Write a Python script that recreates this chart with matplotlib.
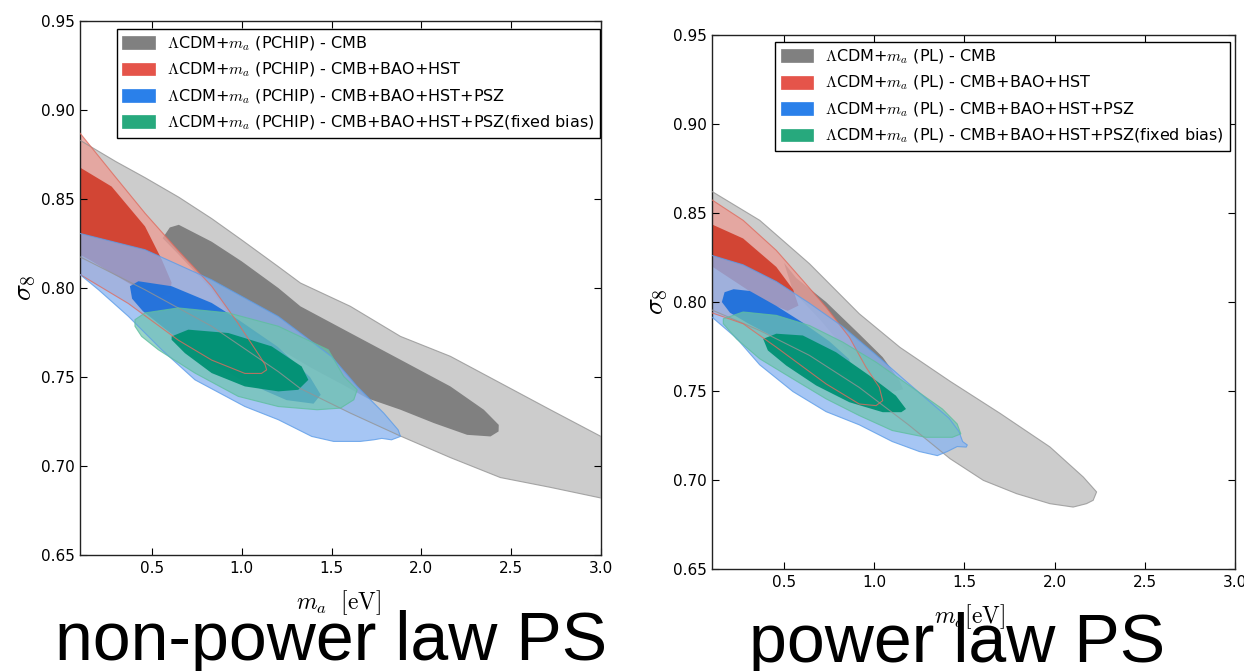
import matplotlib
matplotlib.use('Agg')
import matplotlib.pyplot as plt
from matplotlib.patches import Polygon, Patch
from matplotlib.ticker import FormatStrFormatter

plt.rcParams['mathtext.fontset'] = 'cm'
plt.rcParams['font.family'] = ['DejaVu Sans']

# ---- contour outlines: (m_a [eV], sigma_8) ----
# non-power law PS (PCHIP)
npl_cmb_95 = [(0.0, 0.889), (0.15, 0.880), (0.3, 0.871), (0.462, 0.862), (0.65, 0.851), (0.833, 0.839),
              (1.0, 0.827), (1.204, 0.812), (1.327, 0.8028), (1.605, 0.7897), (1.884, 0.7728),
              (2.162, 0.7616), (2.44, 0.7466), (2.718, 0.7316), (3.0, 0.7166), (3.1, 0.711),
              (3.1, 0.678), (3.0, 0.682), (2.718, 0.688), (2.44, 0.6935), (2.162, 0.7047), (1.884, 0.7168),
              (1.605, 0.7297), (1.327, 0.7435), (1.204, 0.753), (0.833, 0.7785), (0.462, 0.799),
              (0.09, 0.818), (0.0, 0.823)]
npl_cmb_68 = [(0.56, 0.828), (0.6, 0.834), (0.65, 0.8355), (0.833, 0.826), (1.0, 0.815), (1.204, 0.800),
              (1.327, 0.7897), (1.605, 0.7747), (1.884, 0.7597), (2.162, 0.7447), (2.348, 0.7316),
              (2.431, 0.7231), (2.43, 0.7194), (2.385, 0.7166), (2.255, 0.7175), (2.07, 0.7241),
              (1.884, 0.7316), (1.698, 0.7381), (1.575, 0.745), (1.39, 0.755), (1.204, 0.766),
              (1.05, 0.776), (0.95, 0.782), (0.833, 0.799), (0.647, 0.819)]
npl_bao_95 = [(0.0, 0.894), (0.1, 0.887), (0.276, 0.865), (0.462, 0.842), (0.647, 0.821), (0.833, 0.801),
              (0.981, 0.780), (1.092, 0.763), (1.13, 0.757), (1.139, 0.754), (1.11, 0.752), (1.018, 0.752),
              (0.833, 0.7595), (0.647, 0.7707), (0.369, 0.7913), (0.09, 0.8082), (0.0, 0.814)]
npl_bao_68 = [(0.0, 0.873), (0.09, 0.8683), (0.276, 0.857), (0.462, 0.8346), (0.555, 0.816), (0.61, 0.803),
              (0.6, 0.797), (0.55, 0.795), (0.45, 0.798), (0.3, 0.807), (0.15, 0.816), (0.0, 0.824)]
npl_psz_95 = [(0.0, 0.833), (0.09, 0.8309), (0.462, 0.8215), (0.833, 0.8046), (1.204, 0.784), (1.5, 0.7615),
              (1.643, 0.7447), (1.791, 0.7297), (1.871, 0.7203), (1.884, 0.7166), (1.834, 0.7147),
              (1.78, 0.7155), (1.735, 0.7147), (1.66, 0.7138), (1.512, 0.7138), (1.39, 0.7166),
              (1.204, 0.726), (1.018, 0.7334), (0.74, 0.7484), (0.555, 0.7653), (0.369, 0.7841),
              (0.202, 0.7991), (0.09, 0.8084), (0.0, 0.814)]
npl_psz_68 = [(0.378, 0.801), (0.425, 0.8038), (0.61, 0.801), (0.833, 0.7916), (0.981, 0.7822), (1.2, 0.767),
              (1.38, 0.750), (1.44, 0.740), (1.40, 0.735), (1.25, 0.737), (1.0, 0.748), (0.8, 0.760),
              (0.6, 0.775), (0.45, 0.787), (0.39, 0.794)]
npl_fix_95 = [(0.406, 0.7822), (0.462, 0.786), (0.647, 0.7888), (0.926, 0.786), (1.204, 0.7785),
              (1.482, 0.7653), (1.568, 0.7503), (1.643, 0.7428), (1.624, 0.7372), (1.55, 0.7325),
              (1.42, 0.7316), (1.204, 0.7334), (0.981, 0.7391), (0.74, 0.7522), (0.536, 0.7653),
              (0.443, 0.7728), (0.406, 0.7785)]
npl_fix_68 = [(0.61, 0.7728), (0.703, 0.7766), (0.926, 0.7747), (1.167, 0.7672), (1.334, 0.7559),
              (1.371, 0.7484), (1.315, 0.7428), (1.204, 0.7419), (1.018, 0.7447), (0.833, 0.7522),
              (0.684, 0.7634), (0.61, 0.7709)]

# power law PS (PL)
pl_cmb_95 = [(0.0, 0.868), (0.089, 0.8628), (0.365, 0.8459), (0.641, 0.8215), (0.917, 0.7934),
             (1.143, 0.7745), (1.42, 0.7555), (1.697, 0.7375), (1.974, 0.7186), (2.159, 0.7017),
             (2.233, 0.6933), (2.214, 0.6886), (2.177, 0.6867), (2.103, 0.6848), (1.974, 0.6867),
             (1.79, 0.6923), (1.605, 0.6998), (1.42, 0.712), (1.19, 0.731), (0.917, 0.752), (0.641, 0.770),
             (0.365, 0.784), (0.089, 0.796), (0.0, 0.800)]
pl_cmb_68 = [(0.5, 0.822), (0.567, 0.8135), (0.733, 0.800), (0.917, 0.782), (1.047, 0.769), (1.139, 0.756),
             (1.16, 0.751), (1.12, 0.750), (1.03, 0.748), (0.95, 0.757), (0.85, 0.772), (0.7, 0.790),
             (0.55, 0.806)]
pl_bao_95 = [(0.0, 0.864), (0.089, 0.8581), (0.273, 0.8459), (0.457, 0.829), (0.604, 0.8121), (0.733, 0.7971),
             (0.862, 0.7802), (0.954, 0.7634), (1.028, 0.7521), (1.047, 0.7446), (1.01, 0.7418),
             (0.917, 0.7427), (0.733, 0.754), (0.457, 0.7746), (0.273, 0.7878), (0.089, 0.7943), (0.0, 0.798)]
pl_bao_68 = [(0.0, 0.848), (0.089, 0.8441), (0.273, 0.8357), (0.457, 0.8197), (0.55, 0.807), (0.58, 0.798),
             (0.52, 0.795), (0.4, 0.800), (0.25, 0.810), (0.1, 0.820), (0.0, 0.826)]
pl_psz_95 = [(0.0, 0.829), (0.089, 0.8265), (0.273, 0.8209), (0.457, 0.8115), (0.641, 0.7993), (0.825, 0.7862),
             (1.01, 0.7703), (1.157, 0.7572), (1.286, 0.7459), (1.415, 0.7347), (1.47, 0.7272), (1.49, 0.7216),
             (1.516, 0.7197), (1.51, 0.7185), (1.46, 0.7188), (1.405, 0.716), (1.35, 0.7137), (1.25, 0.716),
             (1.1, 0.7216), (0.917, 0.731), (0.733, 0.7384), (0.549, 0.7497), (0.365, 0.7647),
             (0.236, 0.7797), (0.089, 0.7925), (0.0, 0.797)]
pl_psz_68 = [(0.155, 0.800), (0.17, 0.8055), (0.22, 0.8072), (0.31, 0.8062), (0.457, 0.7978), (0.604, 0.7884),
             (0.75, 0.778), (0.86, 0.768), (0.88, 0.762), (0.8, 0.760), (0.65, 0.768), (0.45, 0.780),
             (0.3, 0.788), (0.2, 0.794)]
pl_fix_95 = [(0.163, 0.7906), (0.273, 0.7944), (0.457, 0.7925), (0.641, 0.7868), (0.825, 0.7775),
             (1.01, 0.7662), (1.194, 0.7531), (1.378, 0.7399), (1.46, 0.7315), (1.48, 0.7259), (1.433, 0.724),
             (1.286, 0.724), (1.1, 0.7278), (0.917, 0.7362), (0.733, 0.7456), (0.549, 0.7568),
             (0.365, 0.7681), (0.236, 0.7793), (0.163, 0.7878)]
pl_fix_68 = [(0.384, 0.7793), (0.457, 0.7822), (0.604, 0.7812), (0.788, 0.7718), (0.973, 0.7587),
             (1.12, 0.7474), (1.176, 0.7399), (1.15, 0.7381), (1.047, 0.7381), (0.862, 0.7437),
             (0.678, 0.7531), (0.512, 0.7643), (0.41, 0.7728)]

datasets = ['CMB', 'CMB+BAO+HST', 'CMB+BAO+HST+PSZ', 'CMB+BAO+HST+PSZ(fixed bias)']
x_ticks = [0.5, 1.0, 1.5, 2.0, 2.5, 3.0]
y_ticks = [0.65, 0.70, 0.75, 0.80, 0.85, 0.90, 0.95]

# (light fill, dark fill, outline, legend colour) per dataset
styles = [
    ((0.80, 0.80, 0.80, 1.0), (0.50, 0.50, 0.50, 1.0), (0.58, 0.58, 0.58), '#808080'),
    ((0.923, 0.615, 0.59, 0.78), (0.82, 0.25, 0.18, 0.95), (0.88, 0.42, 0.37), '#e5544a'),
    ((0.533, 0.707, 0.947, 0.75), (0.12, 0.44, 0.86, 0.95), (0.36, 0.61, 0.91), '#2a80ea'),
    ((0.43, 0.77, 0.686, 0.70), (0.0, 0.57, 0.45, 0.95), (0.37, 0.75, 0.62), '#27a97d'),
]


def draw_panel(ax, contours, tag, legend_anchor):
    for (c95, c68), st in zip(contours, styles):
        ax.add_patch(Polygon(c95, closed=True, facecolor=st[0], edgecolor='none', zorder=1))
        ax.add_patch(Polygon(c68, closed=True, facecolor=st[1], edgecolor='none', zorder=1))
    # 95% outlines show through the other fills
    for (c95, c68), st in zip(contours, styles):
        ax.add_patch(Polygon(c95, closed=True, fill=False, edgecolor=st[2], lw=0.8, alpha=0.8, zorder=3))

    ax.set_xlim(0.1, 3.0)
    ax.set_ylim(0.65, 0.95)
    ax.set_xticks(x_ticks)
    ax.set_yticks(y_ticks)
    ax.xaxis.set_major_formatter(FormatStrFormatter('%.1f'))
    ax.yaxis.set_major_formatter(FormatStrFormatter('%.2f'))
    ax.tick_params(direction='in', length=5, width=0.8, top=True, right=True, labelsize=11, pad=4)
    for sp in ax.spines.values():
        sp.set_linewidth(1.0)
        sp.set_color('#222222')

    handles = [Patch(facecolor=st[3], edgecolor=st[3], lw=0.5) for st in styles]
    labels = [r'$\Lambda$CDM+$m_a$ (%s) - %s' % (tag, d) for d in datasets]
    leg = ax.legend(handles, labels, loc='upper right', bbox_to_anchor=legend_anchor,
                    borderaxespad=0, fontsize=11.5, fancybox=False, framealpha=1,
                    edgecolor='black', handlelength=2.05, handleheight=0.85,
                    labelspacing=0.5, handletextpad=0.75, borderpad=0.35)
    leg.get_frame().set_linewidth(1.0)
    ax.set_ylabel(r'$\sigma_8$', fontsize=20, labelpad=2)


fig = plt.figure(figsize=(12.44, 6.71), dpi=100)
ax1 = fig.add_axes([0.0643, 0.1729, 0.4188, 0.7958])
ax2 = fig.add_axes([0.5723, 0.1520, 0.4204, 0.7958])

draw_panel(ax1, [(npl_cmb_95, npl_cmb_68), (npl_bao_95, npl_bao_68),
                 (npl_psz_95, npl_psz_68), (npl_fix_95, npl_fix_68)], 'PCHIP', (0.998, 0.9856))
draw_panel(ax2, [(pl_cmb_95, pl_cmb_68), (pl_bao_95, pl_bao_68),
                 (pl_psz_95, pl_psz_68), (pl_fix_95, pl_fix_68)], 'PL', (0.990, 0.987))

ax1.set_xlabel(r'$m_a\ \ [\mathrm{eV}]$', fontsize=17)
ax1.xaxis.set_label_coords(0.497, -0.062)
ax2.set_xlabel(r'$m_a[\mathrm{eV}]$', fontsize=17)
ax2.xaxis.set_label_coords(0.493, -0.062)

fig.text(0.266, 1 - 660 / 671, 'non-power law PS', fontsize=49, family='Liberation Sans',
         ha='center', va='baseline')
fig.text(0.7697, 1 - 662 / 671, 'power law PS', fontsize=49, family='Liberation Sans',
         ha='center', va='baseline')

fig.savefig('out.png', dpi=100)
